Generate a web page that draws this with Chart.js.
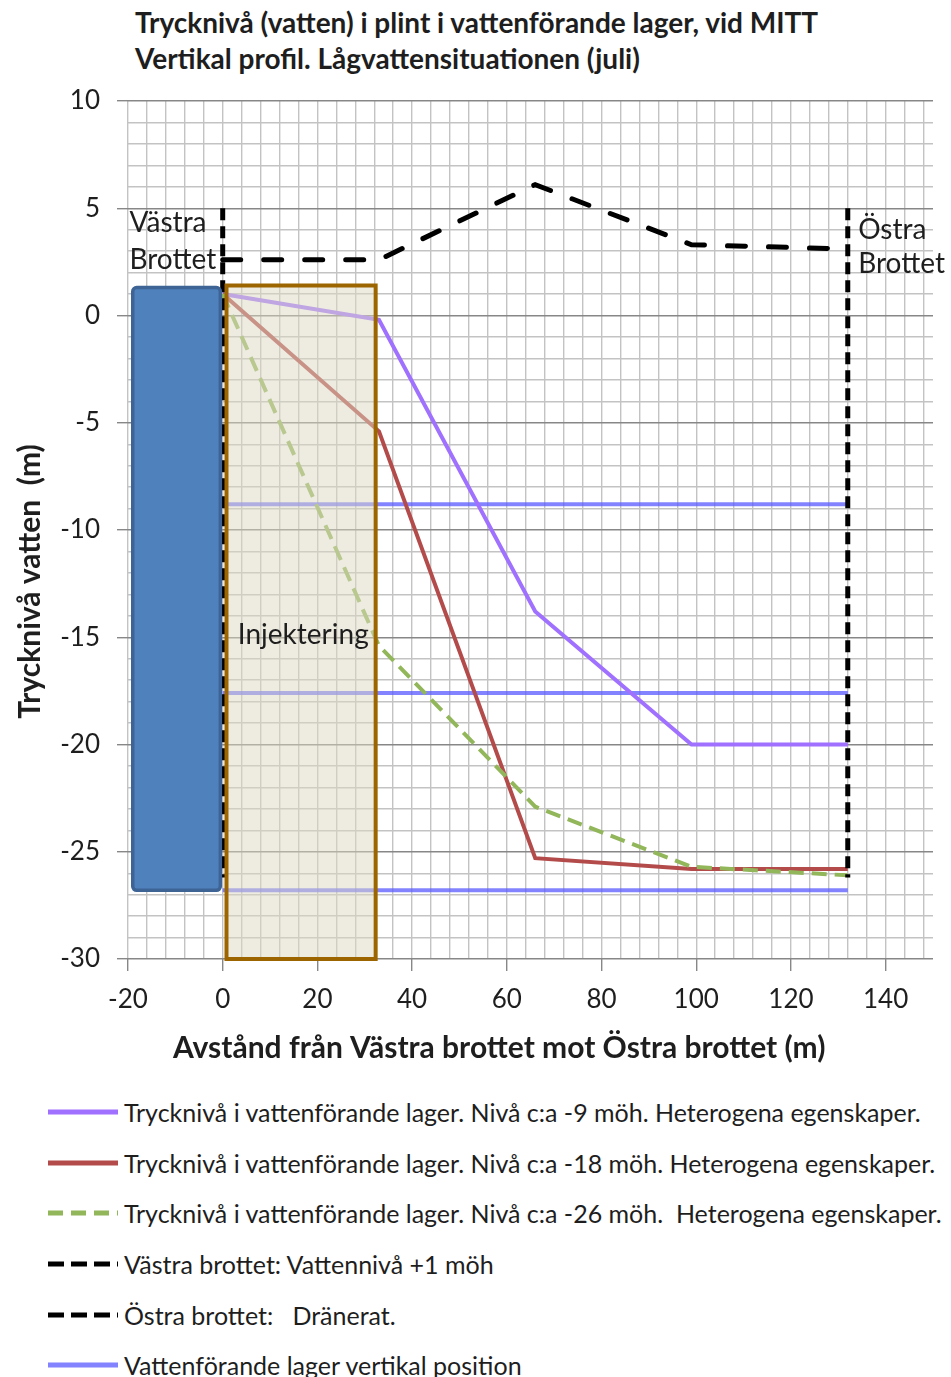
<!DOCTYPE html>
<html lang="sv">
<head>
<meta charset="utf-8">
<title>Trycknivå i plint</title>
<script src="https://cdn.jsdelivr.net/npm/chart.js@4.4.1/dist/chart.umd.min.js"></script>
<style>
  html, body { margin: 0; padding: 0; background: #fff; }
  body { width: 951px; height: 1377px; position: relative; overflow: hidden;
         font-family: Lato, "Open Sans", sans-serif; color: #1e1e1e; }
  #title { position: absolute; left: 135px; top: 4px; font-weight: bold; font-size: 28px; line-height: 36px; }
  #wrap { position: absolute; left: 0; top: 0; }
  #legend { position: absolute; left: 48px; top: 1087px; }
  .legend-row { height: 50.6px; display: flex; align-items: center; font-size: 25px; white-space: pre; }
  .legend-row svg { width: 70px; height: 10px; margin-right: 6px; flex: none; }
</style>
</head>
<body>
<div id="title">Trycknivå (vatten) i plint i vattenförande lager, vid MITT<br>Vertikal profil. Lågvattensituationen (juli)</div>
<div id="wrap"><canvas id="chart" width="951" height="1080"></canvas></div>
<div id="legend"></div>
<script>
// Avstånd längs plinten (m) och trycknivåer (m)
const distance = [0, 33, 66, 99, 132];
const level9 = [1, -0.2, -13.8, -20, -20];
const level18 = [1, -5.4, -25.3, -25.8, -25.8];
const level26 = [1, -15.4, -22.9, -25.7, -26.1];

// Brotten: vertikala gränser
const vastraX = [0, 0];
const vastraY = [5, -26.2];
const ostraX = [132, 132];
const ostraY = [5, -26.2];

// Markprofil ovanför plinten
const profileX = [0, 33, 66, 99, 132];
const profileY = [2.6, 2.6, 6.1, 3.3, 3.1];

// Vattenförande lager
const layerX = [0, 132];
const layerLevels = [-8.8, -17.6, -26.8];

// Vattnet i västra brottet och injekteringszonen
const rockX = [-19, -0.5];
const rockY = [1.3, -26.8];
const injX = [0.8, 32.3];
const injY = [1.4, -30];

const legendLabels = [
    'Trycknivå i vattenförande lager. Nivå c:a -9 möh. Heterogena egenskaper.',
    'Trycknivå i vattenförande lager. Nivå c:a -18 möh. Heterogena egenskaper.',
    'Trycknivå i vattenförande lager. Nivå c:a -26 möh.  Heterogena egenskaper.',
    'Västra brottet: Vattennivå +1 möh',
    'Östra brottet:   Dränerat.',
    'Vattenförande lager vertikal position'
];

const pts = (xs, ys) => xs.map((x, i) => ({ x, y: ys[i] }));

const fontFamily = 'Lato, "Open Sans", sans-serif';
const textColor = '#1e1e1e';

const datasets = [
    { label: legendLabels[0], data: pts(distance, level9), borderColor: '#A070FF', borderWidth: 4, order: 3 },
    { label: legendLabels[1], data: pts(distance, level18), borderColor: '#B44B4B', borderWidth: 4, order: 2 },
    { label: legendLabels[2], data: pts(distance, level26), borderColor: '#92B65A', borderWidth: 4, borderDash: [15, 8], order: 1 },
    { label: legendLabels[3], data: pts(vastraX, vastraY), borderColor: '#000', borderWidth: 5, borderDash: [12, 6], order: 0, legendDash: [16, 7] },
    { label: legendLabels[4], data: pts(ostraX, ostraY), borderColor: '#000', borderWidth: 5, borderDash: [12, 6], order: 0, legendDash: [16, 7] },
    { label: legendLabels[5], data: pts(layerX, [layerLevels[0], layerLevels[0]]), borderColor: 'rgba(90,90,255,0.75)', borderWidth: 4, order: 4 },
    { label: '', data: pts(layerX, [layerLevels[1], layerLevels[1]]), borderColor: 'rgba(90,90,255,0.75)', borderWidth: 4, order: 4 },
    { label: '', data: pts(layerX, [layerLevels[2], layerLevels[2]]), borderColor: 'rgba(90,90,255,0.75)', borderWidth: 4, order: 4 },
    { label: '', data: pts(profileX, profileY), borderColor: '#000', borderWidth: 5, borderDash: [18, 23], borderCapStyle: 'round', order: 0 }
];
datasets.forEach(ds => {
    ds.showLine = true;
    ds.pointRadius = 0;
    ds.pointHoverRadius = 0;
    ds.fill = false;
    ds.tension = 0;
    ds.borderJoinStyle = 'miter';
});

// Text och figurer ritade ovanpå serierna
const annotations = [
    { text: 'Västra', x: -19.7, y: 4.3 },
    { text: 'Brottet', x: -19.7, y: 2.6 },
    { text: 'Östra', x: 134.2, y: 4.0 },
    { text: 'Brottet', x: 134.2, y: 2.4 },
    { text: 'Injektering', x: 3.2, y: -14.9 }
];

const overlayPlugin = {
    id: 'overlay',
    afterDatasetsDraw(chart) {
        const { ctx } = chart;
        const x = chart.scales.x, y = chart.scales.y;
        ctx.save();

        // Västra brottet (vatten)
        const rx0 = x.getPixelForValue(rockX[0]), rx1 = x.getPixelForValue(rockX[1]);
        const ry0 = y.getPixelForValue(rockY[0]), ry1 = y.getPixelForValue(rockY[1]);
        ctx.beginPath();
        ctx.roundRect(rx0, ry0, rx1 - rx0, ry1 - ry0, 4);
        ctx.fillStyle = '#4F81BD';
        ctx.fill();
        ctx.lineWidth = 3.5;
        ctx.strokeStyle = '#3E6495';
        ctx.stroke();

        // Injekteringszon
        const ix0 = x.getPixelForValue(injX[0]), ix1 = x.getPixelForValue(injX[1]);
        const iy0 = y.getPixelForValue(injY[0]), iy1 = y.getPixelForValue(injY[1]);
        ctx.beginPath();
        ctx.rect(ix0, iy0, ix1 - ix0, iy1 - iy0);
        ctx.fillStyle = 'rgba(221,217,195,0.5)';
        ctx.fill();
        ctx.lineWidth = 4;
        ctx.strokeStyle = '#9C6500';
        ctx.stroke();

        // Etiketter
        ctx.fillStyle = textColor;
        ctx.font = '28px ' + fontFamily;
        ctx.textAlign = 'left';
        ctx.textBaseline = 'middle';
        annotations.forEach(a => {
            ctx.fillText(a.text, x.getPixelForValue(a.x), y.getPixelForValue(a.y));
        });

        // Axeltitlar
        ctx.font = 'bold 30px ' + fontFamily;
        ctx.textAlign = 'center';
        ctx.fillText('Avstånd från Västra brottet mot Östra brottet (m)', x.getPixelForValue(58.4), 1048);
        ctx.translate(30, y.getPixelForValue(-12.4));
        ctx.rotate(-Math.PI / 2);
        ctx.fillText('Trycknivå vatten  (m)', 0, 0);
        ctx.restore();
    }
};

const minorGrid = '#c3c3c3';
const majorGrid = '#878787';

const chart = new Chart(document.getElementById('chart'), {
    type: 'scatter',
    data: { datasets },
    options: {
        responsive: false,
        animation: false,
        layout: { padding: { top: 101, right: 18, left: 0, bottom: 0 } },
        plugins: {
            legend: { display: false },
            tooltip: { enabled: false },
            title: { display: false }
        },
        scales: {
            x: {
                type: 'linear',
                min: -20,
                max: 150,
                afterFit: scale => { scale.height = 121; },
                afterBuildTicks: scale => {
                    const ticks = [];
                    for (let v = -20; v <= 148; v += 4) ticks.push({ value: v });
                    scale.ticks = ticks;
                },
                border: { display: false },
                grid: {
                    color: minorGrid,
                    lineWidth: 1.4,
                    tickLength: 12,
                    tickColor: c => (c.tick && c.tick.value % 20 === 0) ? majorGrid : 'rgba(0,0,0,0)'
                },
                ticks: {
                    autoSkip: false,
                    maxRotation: 0,
                    padding: 13,
                    color: textColor,
                    font: { family: fontFamily, size: 26 },
                    callback: v => (v % 20 === 0 ? String(v) : '')
                }
            },
            y: {
                type: 'linear',
                min: -30,
                max: 10,
                afterFit: scale => { scale.width = 128; },
                border: { display: false },
                grid: {
                    color: c => (c.tick && c.tick.value % 5 === 0) ? majorGrid : minorGrid,
                    lineWidth: 1.4,
                    tickLength: 11,
                    tickColor: c => (c.tick && c.tick.value % 5 === 0) ? majorGrid : 'rgba(0,0,0,0)'
                },
                ticks: {
                    stepSize: 1,
                    autoSkip: false,
                    padding: 17,
                    color: textColor,
                    font: { family: fontFamily, size: 26 },
                    callback: v => (v % 5 === 0 ? String(v) : '')
                }
            }
        }
    },
    plugins: [overlayPlugin]
});

// Förklaring under diagrammet
function buildLegend() {
    const box = document.getElementById('legend');
    chart.data.datasets.forEach(ds => {
        if (!ds.label) return;
        const row = document.createElement('div');
        row.className = 'legend-row';
        const dash = ds.legendDash || ds.borderDash;
        const dashAttr = dash ? ` stroke-dasharray="${dash.join(' ')}"` : '';
        row.innerHTML = `<svg viewBox="0 0 70 10"><line x1="0" y1="5" x2="70" y2="5" stroke="${ds.borderColor}" stroke-width="5"${dashAttr}/></svg><span></span>`;
        row.querySelector('span').textContent = ds.label;
        box.appendChild(row);
    });
}
buildLegend();
</script>
</body>
</html>
